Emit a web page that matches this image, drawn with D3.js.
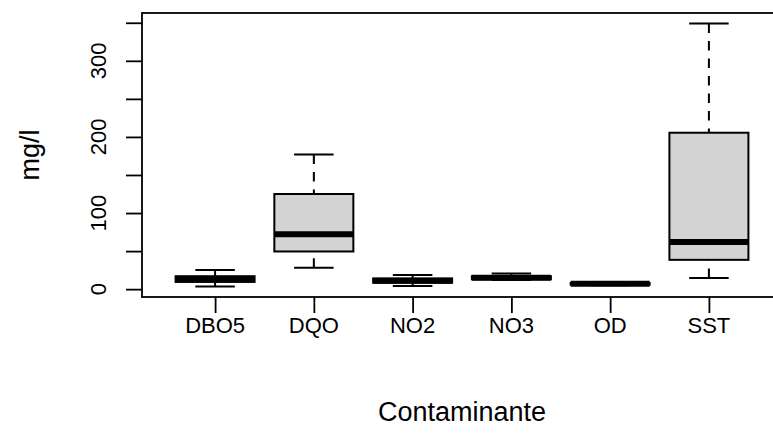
<!DOCTYPE html>
<html>
<head>
<meta charset="utf-8">
<script src="https://cdn.jsdelivr.net/npm/d3@7"></script>
<style>
  body { margin: 0; background: #fff; }
  svg { display: block; }
  text { font-family: "Liberation Sans", Arial, sans-serif; fill: #000; }
</style>
</head>
<body>
<svg id="chart" width="773" height="436"></svg>
<script>
// values (mg/l)
const categories = ["DBO5", "DQO", "NO2", "NO3", "OD", "SST"];
const whiskerLow  = [3.5, 28, 4, 12, 5, 14.5];
const q1          = [9.5, 49.5, 8.5, 13, 6, 38.5];
const medians     = [13, 72, 11, 15, 7, 62];
const q3          = [17, 125, 14, 17, 8, 205.5];
const whiskerHigh = [25, 177, 18.5, 20.5, 9, 349];
const yTicks = [0, 50, 100, 150, 200, 250, 300, 350];
const yLabels = [0, 100, 200, 300];

const boxes = categories.map((c, i) => ({
  name: c, pos: i + 1,
  lo: whiskerLow[i], q1: q1[i], med: medians[i], q3: q3[i], hi: whiskerHigh[i]
}));

let svg = d3.select("#chart");
let plotLeft = 142, plotRight = 782, plotTop = 13, plotBottom = 297;

// R style limits: data range padded 4% each side
let lo = d3.min(whiskerLow), hi = d3.max(whiskerHigh);
let pad = (hi - lo) * 0.04;
let y = d3.scaleLinear().domain([lo - pad, hi + pad]).range([plotBottom, plotTop]);
let n = categories.length;
let xpad = n * 0.04;
let x = d3.scaleLinear().domain([0.5 - xpad, n + 0.5 + xpad]).range([plotLeft, plotRight]);

let boxHalf = (x(1.4) - x(1));
let capHalf = boxHalf / 2;

// y axis ticks (left)
let yAxis = d3.axisLeft(y).tickValues(yTicks).tickSize(16).tickFormat("");
let gy = svg.append("g").attr("transform", `translate(${plotLeft},0)`).call(yAxis);
gy.select(".domain").remove();
gy.selectAll("line").attr("stroke", "#000").attr("stroke-width", 1.8);

svg.append("g").selectAll("text")
  .data(yLabels).enter().append("text")
  .attr("transform", d => `translate(106,${y(d)}) rotate(-90)`)
  .attr("text-anchor", "middle")
  .style("font-size", "22px")
  .text(d => d);

// x axis ticks (bottom)
let xAxis = d3.axisBottom(x).tickValues(boxes.map(d => d.pos)).tickSize(16).tickFormat("");
let gx = svg.append("g").attr("transform", `translate(0,${plotBottom})`).call(xAxis);
gx.select(".domain").remove();
gx.selectAll("line").attr("stroke", "#000").attr("stroke-width", 1.8);

svg.append("g").selectAll("text")
  .data(boxes).enter().append("text")
  .attr("x", d => x(d.pos))
  .attr("y", 333)
  .attr("text-anchor", "middle")
  .style("font-size", "22px")
  .text(d => d.name);

// boxes
let g = svg.append("g").selectAll("g")
  .data(boxes).enter().append("g");

// whiskers, drawn from the end toward the box like R does
g.append("line")
  .attr("x1", d => x(d.pos)).attr("x2", d => x(d.pos))
  .attr("y1", d => y(d.hi)).attr("y2", d => y(d.q3))
  .attr("stroke", "#000").attr("stroke-width", 2)
  .attr("stroke-dasharray", "9.5,8");
g.append("line")
  .attr("x1", d => x(d.pos)).attr("x2", d => x(d.pos))
  .attr("y1", d => y(d.lo)).attr("y2", d => y(d.q1))
  .attr("stroke", "#000").attr("stroke-width", 2)
  .attr("stroke-dasharray", "9.5,8");

// caps
g.selectAll(".cap")
  .data(d => [{ pos: d.pos, v: d.hi }, { pos: d.pos, v: d.lo }])
  .enter().append("line")
  .attr("class", "cap")
  .attr("x1", d => x(d.pos) - capHalf).attr("x2", d => x(d.pos) + capHalf)
  .attr("y1", d => y(d.v)).attr("y2", d => y(d.v))
  .attr("stroke", "#000").attr("stroke-width", 2);

g.append("rect")
  .attr("x", d => x(d.pos) - boxHalf)
  .attr("width", boxHalf * 2)
  .attr("y", d => y(d.q3))
  .attr("height", d => y(d.q1) - y(d.q3))
  .attr("fill", "#d3d3d3")
  .attr("stroke", "#000").attr("stroke-width", 2);

g.append("line")
  .attr("x1", d => x(d.pos) - boxHalf).attr("x2", d => x(d.pos) + boxHalf)
  .attr("y1", d => y(d.med)).attr("y2", d => y(d.med))
  .attr("stroke", "#000").attr("stroke-width", 6);

// plot frame (runs off the right side like the original)
svg.append("rect")
  .attr("x", plotLeft).attr("y", plotTop)
  .attr("width", plotRight - plotLeft).attr("height", plotBottom - plotTop)
  .attr("fill", "none").attr("stroke", "#000").attr("stroke-width", 1.8);

// axis titles
svg.append("text")
  .attr("x", (plotLeft + plotRight) / 2)
  .attr("y", 421)
  .attr("text-anchor", "middle")
  .style("font-size", "27px")
  .text("Contaminante");

svg.append("text")
  .attr("transform", `translate(39,${(plotTop + plotBottom) / 2}) rotate(-90)`)
  .attr("text-anchor", "middle")
  .style("font-size", "27px")
  .text("mg/l");
</script>
</body>
</html>
